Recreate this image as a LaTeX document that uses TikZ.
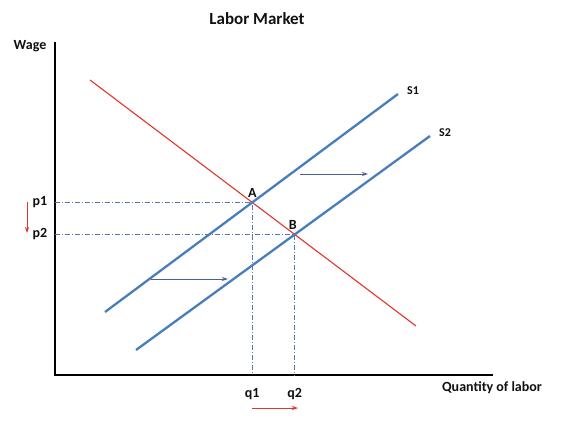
\documentclass[tikz,border=0pt]{standalone}
\usepackage{fontspec}
\setmainfont{Carlito}
\usepackage{xcolor}
\usepackage{tikz}
\usetikzlibrary{arrows.meta,intersections}
\definecolor{lmSupply}{HTML}{4A7EBB}
\definecolor{lmDemand}{HTML}{E0352B}
\definecolor{lmGuide}{HTML}{5A78A8}
\definecolor{lmShift}{HTML}{4A5E9E}
\definecolor{lmInk}{HTML}{111111}
\tikzset{
  lm diagram/.style={x=1pt, y=-1pt, font=\bfseries\fontsize{14}{16}\selectfont,
    text=lmInk, line cap=butt},
  lm axis/.style={draw=black, line width=2.6pt},
  lm supply/.style={draw=lmSupply, line width=2.3pt},
  lm demand/.style={draw=lmDemand, line width=1.1pt},
  lm guide/.style={draw=lmGuide, line width=0.6pt, dash pattern=on 5pt off 2pt on 1pt off 2pt},
  lm shift/.style={-{Stealth[length=6pt,width=4pt]}, draw=lmShift, line width=0.9pt},
  lm move/.style={-{Stealth[length=6pt,width=4pt]}, draw=lmDemand, line width=0.9pt},
  lm label/.style={inner sep=1pt},
  lm small/.style={lm label, font=\bfseries\fontsize{12}{14}\selectfont}
}
\begin{document}
\begin{tikzpicture}[lm diagram]
\useasboundingbox[fill=white] (0,0) rectangle (565,421);
% axes
\coordinate (origin) at (55,375);
\coordinate (ytop) at (55,42);
\coordinate (xend) at (493,375);
\draw[lm axis] (ytop) -- (55,376.3);
\draw[lm axis] (53.7,375) -- (xend);
\node[font=\bfseries\fontsize{17}{19}\selectfont] (title) at (257,19) {Labor Market};
\node[lm label] (wage) at (30,46) {Wage};
\node[lm label] (qty) at (492,388) {Quantity of labor};
% curves
\draw[lm demand, name path=dem] (90,80) -- (416,326);
\draw[lm supply, name path=sone] (105,312) -- (398,94) coordinate (s1end);
\draw[lm supply, name path=stwo] (136,350) -- (430,136) coordinate (s2end);
\node[lm small, anchor=south west] (s1) at ([xshift=8pt,yshift=-2pt]s1end) {S1};
\node[lm small, anchor=south west] (s2) at ([xshift=8pt,yshift=-2pt]s2end) {S2};
% equilibria
\path[name intersections={of=dem and sone, by=ptA}];
\path[name intersections={of=dem and stwo, by=ptB}];
\node[lm label, anchor=south] (A) at ([yshift=4pt]ptA) {A};
\node[lm label, anchor=south] (B) at ([xshift=-2pt,yshift=4pt]ptB) {B};
\node[lm label] (p1) at (40,202) {p1};
\node[lm label] (p2) at (40,234) {p2};
\node[lm label] (q1) at (ptA |- 0,394) {q1};
\node[lm label] (q2) at (ptB |- 0,394) {q2};
\draw[lm guide] (origin |- ptA) -- (ptA) -- (ptA |- origin);
\draw[lm guide] (origin |- ptB) -- (ptB) -- (ptB |- origin);
% shifts
\coordinate (pfrom) at (27,202);
\coordinate (pto) at (27,233);
\draw[lm move] (pfrom) -- (pto);
\coordinate (qfrom) at (252,408);
\coordinate (qto) at (298,408);
\draw[lm move] (qfrom) -- (qto);
\coordinate (upfrom) at (300,174);
\coordinate (upto) at (368,174);
\draw[lm shift] (upfrom) -- (upto);
\coordinate (lowfrom) at (151,279);
\coordinate (lowto) at (228,279);
\draw[lm shift] (lowfrom) -- (lowto);
\end{tikzpicture}
\end{document}
